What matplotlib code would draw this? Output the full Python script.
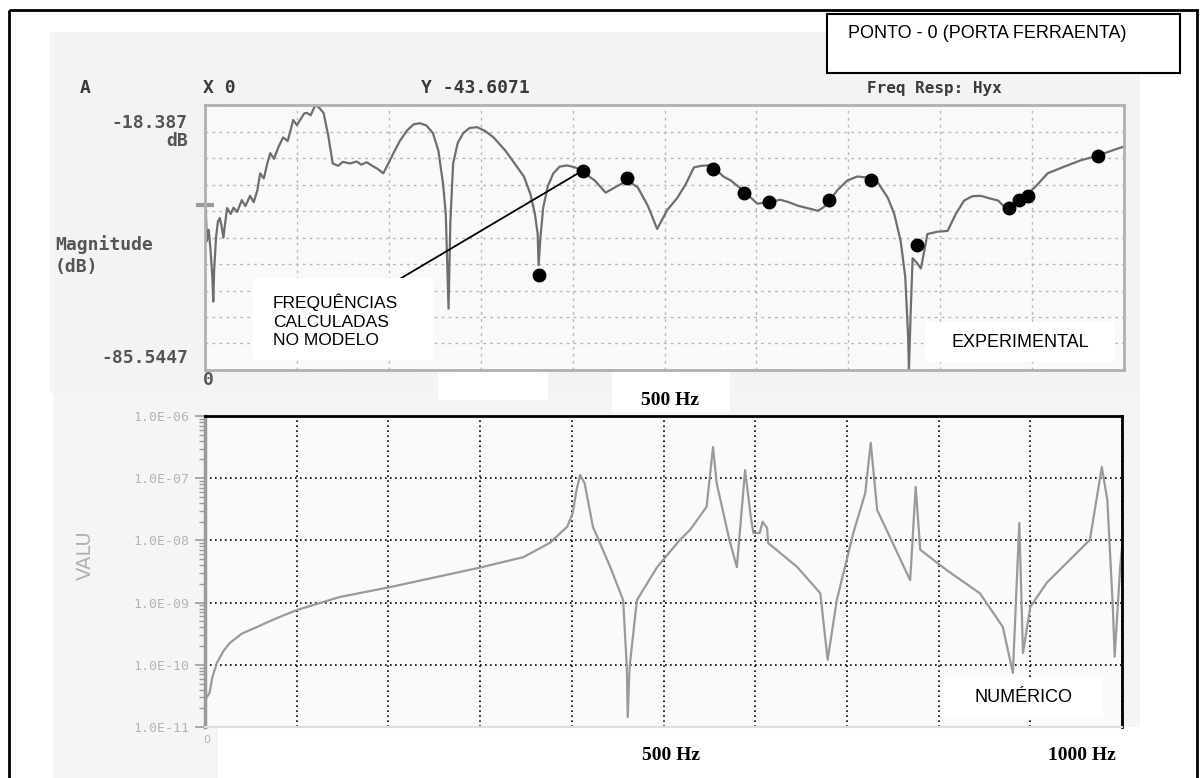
import matplotlib
matplotlib.use('Agg')
import matplotlib.pyplot as plt
import matplotlib.patches as mpl_patches
import numpy as np

# experimental FRF (dB)
exp_freq = [0, 1, 2, 4, 6, 8, 9, 10, 12, 14, 16, 18, 20, 24, 28, 31, 35, 40, 44,
            49, 53, 57, 60, 64, 68, 71, 75, 80, 85, 90, 96, 100, 104, 108, 111,
            115, 120, 124, 129, 134, 139, 145, 150, 158, 165, 170, 176, 182, 188,
            194, 200, 205, 212, 220, 227, 234, 241, 248, 254, 259, 262, 265, 267,
            270, 275, 281, 288, 296, 305, 314, 327, 340, 347, 354, 359, 362, 363,
            365, 368, 373, 379, 386, 394, 403, 412, 424, 436, 448, 460, 466, 471,
            482, 492, 503, 514, 523, 532, 540, 547, 555, 564, 572, 580, 590, 601,
            613, 626, 635, 645, 655, 667, 673, 678, 688, 699, 710, 721, 732, 743,
            750, 757, 762, 765, 766, 768, 770, 775, 779, 783, 786, 797, 808, 817,
            826, 835, 844, 853, 863, 869, 874, 880, 891, 904, 917, 935, 953, 972,
            986, 1000]
exp_db = [-43.4, -45.5, -52.9, -50.0, -55.0, -62.0, -68.2, -60.0, -52.0, -48.0,
          -47.0, -49.0, -52.0, -44.5, -46.0, -44.4, -45.5, -42.5, -44.0, -41.4,
          -43.0, -40.0, -35.7, -37.0, -33.0, -30.6, -32.0, -29.0, -26.6, -27.5,
          -22.2, -23.5, -22.0, -20.5, -20.4, -21.0, -18.4, -19.0, -20.4, -26.0,
          -33.2, -33.8, -32.8, -33.2, -32.7, -33.5, -32.9, -33.8, -34.6, -35.7,
          -33.0, -30.6, -27.5, -24.8, -23.3, -23.0, -23.6, -25.5, -30.0, -38.3,
          -46.0, -70.0, -48.0, -33.2, -28.0, -25.5, -24.2, -24.0, -25.0, -26.6,
          -30.0, -34.2, -36.5, -40.9, -46.0, -51.1, -59.0, -52.0, -44.4, -39.0,
          -35.7, -34.0, -33.7, -34.2, -35.5, -37.5, -40.6, -39.0, -37.5, -38.5,
          -39.3, -44.0, -49.8, -45.0, -41.9, -38.5, -34.2, -33.8, -33.7, -34.5,
          -36.5, -37.5, -39.0, -41.0, -43.4, -43.0, -42.4, -43.0, -43.9, -44.5,
          -45.2, -44.3, -43.2, -40.0, -37.5, -36.5, -36.8, -38.0, -41.9, -46.0,
          -52.9, -62.0, -76.6, -85.3, -70.0, -57.2, -58.5, -59.8, -55.0, -51.1,
          -50.5, -50.3, -46.0, -42.6, -41.5, -41.4, -42.0, -42.6, -44.0, -45.7,
          -43.5, -41.9, -39.0, -35.7, -34.0, -32.4, -31.2, -30.0, -28.9]

# frequencies calculated by the model (dots on the experimental curve)
model_freq = [363, 411, 459, 553, 587, 614, 679, 725, 775, 875, 886, 895, 972]
model_db = [-61.5, -35.0, -37.0, -34.7, -40.6, -42.9, -42.4, -37.5, -53.9,
            -44.4, -42.4, -41.4, -31.2]

# numerical FRF, log10 of the amplitude
num_freq = [0, 2, 5, 8, 13, 20, 27, 40, 57, 75, 100, 147, 202, 299, 347, 376,
            395, 401, 405, 409, 414, 423, 442, 456, 460, 461, 463, 471, 493, 518,
            529, 547, 554, 558, 572, 580, 589, 595, 598, 605, 608, 613, 614, 646,
            671, 679, 689, 707, 720, 726, 733, 769, 775, 780, 809, 845, 870, 881,
            888, 892, 900, 918, 965, 978, 984, 990, 992, 998, 1000]
num_log10 = [-10.57, -10.52, -10.45, -10.2, -9.97, -9.78, -9.65, -9.5, -9.39,
             -9.27, -9.12, -8.91, -8.75, -8.44, -8.27, -8.04, -7.78, -7.56, -7.2,
             -6.95, -7.08, -7.78, -8.43, -8.96, -10.04, -10.84, -10.04, -8.96,
             -8.43, -7.99, -7.83, -7.46, -6.50, -7.08, -8.0, -8.43, -6.87, -7.6,
             -7.88, -7.88, -7.70, -7.80, -8.04, -8.43, -8.85, -9.92, -8.96, -7.88,
             -7.24, -6.43, -7.51, -8.64, -7.14, -8.15, -8.48, -8.85, -9.39, -10.13,
             -7.72, -9.81, -9.07, -8.68, -7.99, -6.82, -7.35, -9.07, -9.87, -8.43,
             -8.11]

top_ylim = (-85.5447, -18.387)
bot_ticks = [1e-11, 1e-10, 1e-9, 1e-8, 1e-7, 1e-6]
bot_ticklabels = ['1.0E-11', '1.0E-10', '1.0E-09', '1.0E-08', '1.0E-07', '1.0E-06']

W, H = 1204, 778
fig = plt.figure(figsize=(W / 100, H / 100), dpi=100)
fig.patch.set_facecolor('white')


def px_axes(z):
    a = fig.add_axes([0, 0, 1, 1], zorder=z)
    a.set_xlim(0, W)
    a.set_ylim(H, 0)
    a.axis('off')
    a.patch.set_alpha(0)
    return a


# scanned-page background
bg = px_axes(-1)
bg.add_patch(mpl_patches.Rectangle((50, 32), 1090, 361, color='#f3f3f3', lw=0))
bg.add_patch(mpl_patches.Rectangle((53, 393), 1087, 385, color='#f5f5f5', lw=0))
bg.add_patch(mpl_patches.Rectangle((218, 727), 960, 60, color='white', lw=0))
bg.add_patch(mpl_patches.Rectangle((438, 372), 110, 28, color='white', lw=0))
bg.add_patch(mpl_patches.Rectangle((612, 372), 118, 40, color='white', lw=0))
bg.add_patch(mpl_patches.Rectangle((9, 10), 1188, 800, fill=False, ec='black', lw=2))

# ---- experimental ----
ax1 = fig.add_axes([205 / W, 1 - 370 / H, 919 / W, 265 / H])
ax1.set_facecolor('#f9f9f9')
ax1.plot(exp_freq, exp_db, color='#6e6e6e', lw=1.6)
ax1.plot(model_freq, model_db, 'o', color='black', ms=9)
ax1.plot([0], [-43.6071], marker='_', ms=13, mew=3, color='#999999', clip_on=False)
ax1.annotate('', xy=(model_freq[1], model_db[1]), xytext=(211, -62.6),
             arrowprops=dict(arrowstyle='-', color='black', lw=1.3, shrinkA=0, shrinkB=4))
ax1.set_xlim(0, 1000)
ax1.set_ylim(*top_ylim)
ax1.set_xticks(np.arange(0, 1001, 100))
ax1.set_yticks(np.linspace(top_ylim[0], top_ylim[1], 11))
ax1.grid(True, color='#b8b8b8', ls=(0, (2, 3)), lw=1)
ax1.tick_params(length=0, labelleft=False, labelbottom=False)
for s in ax1.spines.values():
    s.set_color('#b0b0b0')
    s.set_linewidth(2)

# ---- numerical ----
ax2 = fig.add_axes([205 / W, 1 - 727 / H, 917 / W, 311 / H])
ax2.set_facecolor('#fafafa')
ax2.plot(num_freq, 10.0 ** np.array(num_log10), color='#9a9a9a', lw=1.6)
ax2.set_yscale('log')
ax2.set_xlim(0, 1000)
ax2.set_ylim(1e-11, 1e-6)
ax2.set_xticks(np.arange(0, 1001, 100))
ax2.set_yticks(bot_ticks)
ax2.set_yticklabels(bot_ticklabels, family='DejaVu Sans Mono', fontsize=9.5, color='#b5b5b5')
ax2.grid(True, which='major', color='black', ls=(0, (1, 2)), lw=1.2)
ax2.tick_params(axis='x', length=0, labelbottom=False)
ax2.tick_params(axis='y', which='major', length=7, width=1.2, color='#9a9a9a', pad=4)
ax2.tick_params(axis='y', which='minor', length=4, width=1, color='#9a9a9a')
ax2.spines['left'].set_color('#9a9a9a')
ax2.spines['left'].set_linewidth(2.5)
ax2.spines['bottom'].set_color('#dddddd')
ax2.spines['bottom'].set_linewidth(1.5)
ax2.spines['top'].set_color('black')
ax2.spines['top'].set_linewidth(2)
ax2.spines['right'].set_color('black')
ax2.spines['right'].set_linewidth(2)

# ---- labels and boxes ----
ov = px_axes(5)
mono = dict(family='DejaVu Sans Mono', fontweight='bold', color='#3a3a3a', fontsize=13, va='center')
ov.text(80, 88, 'A', **mono)
ov.text(203, 88, 'X 0', **mono)
ov.text(421, 88, 'Y -43.6071', **mono)
ov.text(867, 88, 'Freq Resp: Hyx', family='DejaVu Sans Mono', fontweight='bold',
        color='#3a3a3a', fontsize=11.5, va='center')
lab = dict(family='DejaVu Sans Mono', fontweight='bold', color='#555555', fontsize=13, va='center')
ov.text(188, 123, '-18.387', ha='right', **lab)
ov.text(188, 141, 'dB', ha='right', **lab)
ov.text(55, 245, 'Magnitude', ha='left', **lab)
ov.text(55, 267, '(dB)', ha='left', **lab)
ov.text(188, 358, '-85.5447', ha='right', **lab)
ov.text(208, 380, '0', ha='center', **lab)
ov.text(207, 740, '0', ha='center', va='center', color='#b5b5b5', fontsize=8)
ov.text(85, 555, 'VALU', rotation=90, ha='center', va='center', color='#b0b0b0', fontsize=14)

ov.add_patch(mpl_patches.Rectangle((827, 14), 353, 59, fc='white', ec='black', lw=1.5))
ov.text(848, 33, 'PONTO - 0 (PORTA FERRAENTA)', family='Liberation Sans', fontsize=13,
        va='center', ha='left', color='black')

ov.add_patch(mpl_patches.Rectangle((253, 278), 180, 82, fc='white', ec='none'))
ov.text(273, 321, 'FREQUÊNCIAS\nCALCULADAS\nNO MODELO', family='Liberation Sans',
        fontsize=12.5, va='center', ha='left', linespacing=1.3, color='black')

ov.add_patch(mpl_patches.Rectangle((925, 322), 190, 40, fc='white', ec='none'))
ov.text(1020, 342, 'EXPERIMENTAL', family='Liberation Sans', fontsize=13,
        va='center', ha='center', color='black')

ov.add_patch(mpl_patches.Rectangle((943, 677), 160, 40, fc='white', ec='none'))
ov.text(1023, 697, 'NUMÉRICO', family='Liberation Sans', fontsize=13,
        va='center', ha='center', color='black')

hz = dict(family='Liberation Serif', fontweight='bold', fontsize=14, va='center', ha='center')
ov.text(670, 400, '500 Hz', **hz)
ov.text(671, 755, '500 Hz', **hz)
ov.text(1082, 755, '1000 Hz', **hz)

fig.savefig('out.png', dpi=100)
